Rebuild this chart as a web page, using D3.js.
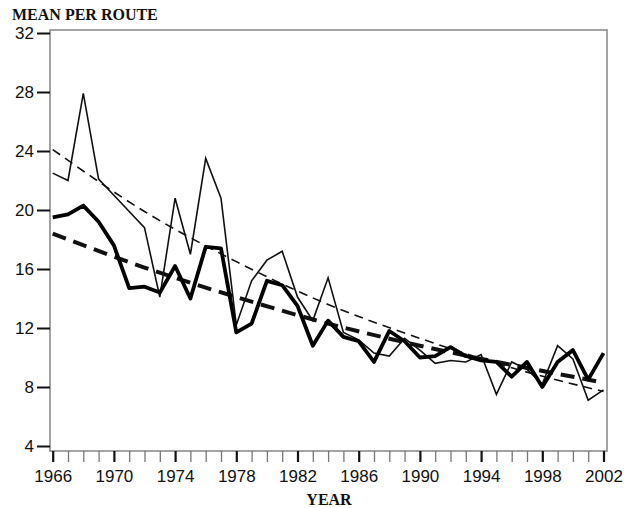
<!DOCTYPE html>
<html>
<head>
<meta charset="utf-8">
<script src="https://cdn.jsdelivr.net/npm/d3@7"></script>
<style>
  body { margin: 0; background: #fff; }
  .tick text { font-family: "Liberation Sans", Arial, sans-serif; font-size: 17px; fill: #111; }
  .title { font-family: "Liberation Serif", "Times New Roman", serif; font-weight: bold; font-size: 16px; fill: #111; }
</style>
</head>
<body>
<div id="chart-area"></div>
<script>
// ---- DATA ----
let years = d3.range(1966, 2003);
let seriesThin = [22.5, 22.0, 27.9, 22.1, 21.0, 19.9, 18.8, 14.1, 20.8, 17.0,
  23.5, 20.8, 12.2, 15.2, 16.6, 17.2, 14.1, 12.5, 15.4, 11.7,
  11.2, 10.3, 10.1, 11.3, 10.5, 9.6, 9.8, 9.7, 10.2, 7.5,
  9.7, 9.2, 8.2, 10.8, 9.9, 7.1, 7.8];
let seriesThick = [19.5, 19.7, 20.3, 19.2, 17.6, 14.7, 14.8, 14.4, 16.2, 14.0,
  17.5, 17.4, 11.7, 12.3, 15.2, 14.9, 13.5, 10.8, 12.5, 11.4,
  11.1, 9.7, 11.8, 11.1, 10.0, 10.1, 10.7, 10.1, 9.8, 9.7,
  8.7, 9.7, 8.0, 9.7, 10.5, 8.5, 10.3];
let trendYears = [1966, 1972, 1978, 1984, 1990, 1996, 2002];
let trendThin = [24.1, 19.9, 16.5, 13.6, 11.3, 9.3, 7.7];
let trendThick = [18.4, 16.1, 14.1, 12.3, 10.8, 9.5, 8.3];
let yTicks = [4, 8, 12, 16, 20, 24, 28, 32];

let width = 634, height = 508;
let frame = {left: 50, right: 607, top: 30, bottom: 451};

let svg = d3.select("#chart-area")
  .append("svg")
  .attr("width", width)
  .attr("height", height);

let x = d3.scaleLinear().domain([1966, 2002]).range([52.7, 603.5]);
let y = d3.scaleLinear().domain([4, 32]).range([446, 33]);

// frame
svg.append("rect")
  .attr("x", frame.left)
  .attr("y", frame.top)
  .attr("width", frame.right - frame.left)
  .attr("height", frame.bottom - frame.top)
  .attr("fill", "none")
  .attr("stroke", "#8c8c8c")
  .attr("stroke-width", 1.6);

// ---- AXES ----
let xAxis = d3.axisBottom(x)
  .tickValues(years)
  .tickSize(11)
  .tickSizeOuter(0)
  .tickPadding(8)
  .tickFormat(function(d) { return d % 4 == 2 ? d : ""; });

let xAxisGroup = svg.append("g")
  .attr("class", "x-axis axis")
  .attr("transform", "translate(0," + frame.bottom + ")")
  .call(xAxis);
xAxisGroup.select(".domain").remove();
xAxisGroup.selectAll(".tick line")
  .attr("stroke", function(d) { return d % 4 == 2 ? "#111" : "#777"; })
  .attr("stroke-width", function(d) { return d % 4 == 2 ? 2.2 : 1.3; });

let yAxis = d3.axisLeft(y)
  .tickValues(yTicks)
  .tickSize(13)
  .tickSizeOuter(0)
  .tickPadding(3);

let yAxisGroup = svg.append("g")
  .attr("class", "y-axis axis")
  .attr("transform", "translate(" + frame.left + ",0)")
  .call(yAxis);
yAxisGroup.select(".domain").remove();
yAxisGroup.selectAll(".tick line")
  .attr("stroke", "#111")
  .attr("stroke-width", 2);

// ---- LINES ----
let line = d3.line()
  .x(function(d) { return x(d[0]); })
  .y(function(d) { return y(d[1]); });

let trendLine = d3.line()
  .curve(d3.curveMonotoneX)
  .x(function(d) { return x(d[0]); })
  .y(function(d) { return y(d[1]); });

svg.append("path")
  .datum(d3.zip(trendYears, trendThin))
  .attr("d", trendLine)
  .attr("fill", "none")
  .attr("stroke", "#111")
  .attr("stroke-width", 1.6)
  .attr("stroke-dasharray", "9,6");

svg.append("path")
  .datum(d3.zip(trendYears, trendThick))
  .attr("d", trendLine)
  .attr("fill", "none")
  .attr("stroke", "#111")
  .attr("stroke-width", 4)
  .attr("stroke-dasharray", "14,8");

svg.append("path")
  .datum(d3.zip(years, seriesThin))
  .attr("d", line)
  .attr("fill", "none")
  .attr("stroke", "#111")
  .attr("stroke-width", 1.6)
  .attr("stroke-linejoin", "miter");

svg.append("path")
  .datum(d3.zip(years, seriesThick))
  .attr("d", line)
  .attr("fill", "none")
  .attr("stroke", "#000")
  .attr("stroke-width", 3.8)
  .attr("stroke-linejoin", "round");

// ---- TITLES ----
svg.append("text")
  .attr("class", "title")
  .attr("x", 12)
  .attr("y", 20)
  .text("MEAN PER ROUTE");

svg.append("text")
  .attr("class", "title")
  .attr("x", 329)
  .attr("y", 505)
  .style("text-anchor", "middle")
  .text("YEAR");
</script>
</body>
</html>
